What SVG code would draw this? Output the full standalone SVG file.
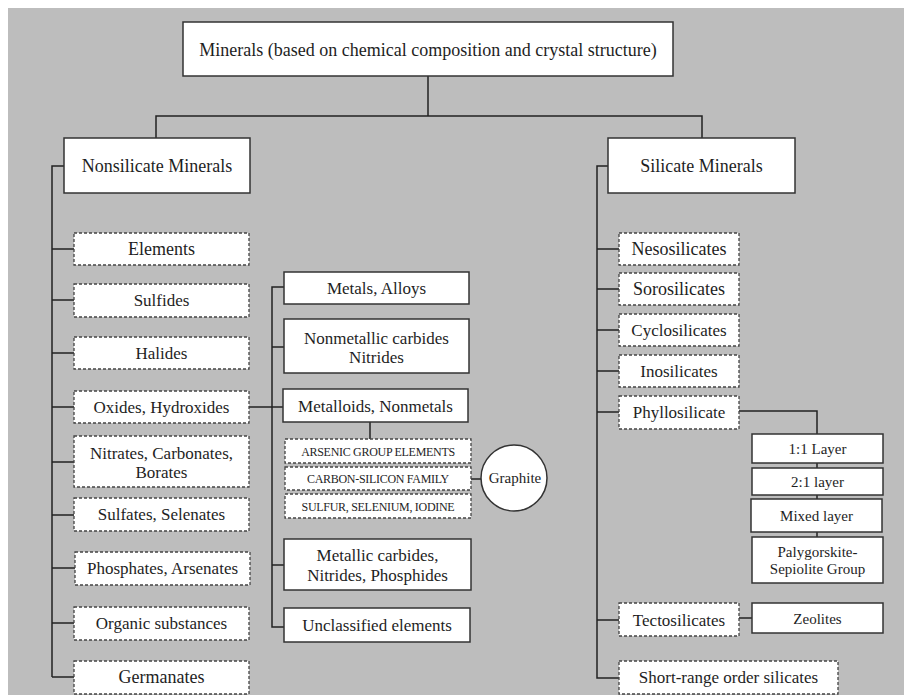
<svg xmlns="http://www.w3.org/2000/svg" width="904" height="695" viewBox="0 0 904 695">
<style>
.bg{fill:#bdbdbd}
.box{fill:#fff;stroke:#333;stroke-width:1.5}
.dbox{fill:#fff;stroke:#444;stroke-width:1.3;stroke-dasharray:3 2}
.t{font-family:"Liberation Serif","Times New Roman",serif;fill:#1e1e1e;text-anchor:middle}
.s17{font-size:17px}
.s18{font-size:18px}
.s15{font-size:15px}
.s12{font-size:12px;letter-spacing:-0.3px}
.c{fill:none;stroke:#222;stroke-width:1.5}
</style>
<rect x="0" y="0" width="904" height="695" fill="#fff"/>
<rect class="bg" x="8" y="8" width="896" height="687"/>

<g id="connectors">
<path class="c" d="M428,76V116M156,138V116H702V138"/>
<path class="c" d="M64,166H52V677M52,249H74M52,300H74M52,353H74M52,407H74M52,462H74M52,515H74M52,568H75M52,623H74M52,677H74"/>
<path class="c" d="M249,407H284M284,287H272V627H284M272,347H284M272,565H284M370,422V439M471,479H481"/>
<path class="c" d="M608,166H597V678H619M597,249H619M597,289H619M597,330H619M597,371H619M597,412H619M597,620H619"/>
<path class="c" d="M739,411H817V434M817,463V468M817,495V499M817,532V537M739,618H752"/>
</g>

<g id="root"><rect class="box" x="183" y="22" width="490" height="54"/><text class="t s18" x="428" y="56">Minerals (based on chemical composition and crystal structure)</text></g>
<g id="nonsilicate"><rect class="box" x="64" y="138" width="186" height="55"/><text class="t s18" x="157" y="172">Nonsilicate Minerals</text></g>
<g id="silicate"><rect class="box" x="608" y="138" width="187" height="55"/><text class="t s18" x="701.5" y="172">Silicate Minerals</text></g>

<g id="elements"><rect class="dbox" x="74" y="233" width="175" height="32"/><text class="t s18" x="161.5" y="255">Elements</text></g>
<g id="sulfides"><rect class="dbox" x="74" y="284" width="175" height="33"/><text class="t s17" x="161.5" y="306">Sulfides</text></g>
<g id="halides"><rect class="dbox" x="74" y="337" width="175" height="32"/><text class="t s17" x="161.5" y="359">Halides</text></g>
<g id="oxides"><rect class="dbox" x="74" y="391" width="175" height="32"/><text class="t s17" x="161.5" y="413">Oxides, Hydroxides</text></g>
<g id="nitrates"><rect class="dbox" x="74" y="436" width="175" height="51"/><text class="t s17" x="161.5" y="459">Nitrates, Carbonates,</text><text class="t s17" x="161.5" y="478">Borates</text></g>
<g id="sulfates"><rect class="dbox" x="74" y="498" width="175" height="33"/><text class="t s17" x="161.5" y="520">Sulfates, Selenates</text></g>
<g id="phosphates"><rect class="dbox" x="75" y="552" width="175" height="33"/><text class="t s17" x="162.5" y="574">Phosphates, Arsenates</text></g>
<g id="organic"><rect class="dbox" x="74" y="607" width="175" height="33"/><text class="t s17" x="161.5" y="629">Organic substances</text></g>
<g id="germanates"><rect class="dbox" x="74" y="661" width="175" height="33"/><text class="t s18" x="161.5" y="683">Germanates</text></g>

<g id="metals"><rect class="box" x="284" y="272" width="185" height="32"/><text class="t s17" x="376.5" y="294">Metals, Alloys</text></g>
<g id="nonmetallic"><rect class="box" x="284" y="319" width="185" height="54"/><text class="t s17" x="376.5" y="344">Nonmetallic carbides</text><text class="t s17" x="376.5" y="363">Nitrides</text></g>
<g id="metalloids"><rect class="box" x="283" y="389" width="185" height="33"/><text class="t s17" x="375.5" y="412">Metalloids, Nonmetals</text></g>
<g id="arsenic"><rect class="dbox" x="285" y="439" width="186" height="24"/><text class="t s12" x="378" y="456">ARSENIC GROUP ELEMENTS</text></g>
<g id="carbon"><rect class="dbox" x="285" y="467" width="186" height="23"/><text class="t s12" x="378" y="483">CARBON-SILICON FAMILY</text></g>
<g id="sulfur"><rect class="dbox" x="285" y="494" width="186" height="24"/><text class="t s12" x="378" y="511">SULFUR, SELENIUM, IODINE</text></g>
<g id="graphite"><circle cx="514" cy="478" r="33" fill="#fff" stroke="#333" stroke-width="1.5"/><text class="t s15" x="515" y="483">Graphite</text></g>
<g id="metallic"><rect class="box" x="284" y="539" width="187" height="51"/><text class="t s17" x="377.5" y="561">Metallic carbides,</text><text class="t s17" x="377.5" y="581">Nitrides, Phosphides</text></g>
<g id="unclassified"><rect class="box" x="284" y="608" width="186" height="34"/><text class="t s17" x="377" y="631">Unclassified elements</text></g>

<g id="neso"><rect class="dbox" x="619" y="233" width="120" height="32"/><text class="t s18" x="679" y="255">Nesosilicates</text></g>
<g id="soro"><rect class="dbox" x="619" y="273" width="120" height="32"/><text class="t s18" x="679" y="295">Sorosilicates</text></g>
<g id="cyclo"><rect class="dbox" x="619" y="314" width="120" height="32"/><text class="t s17" x="679" y="336">Cyclosilicates</text></g>
<g id="ino"><rect class="dbox" x="619" y="355" width="120" height="32"/><text class="t s17" x="679" y="377">Inosilicates</text></g>
<g id="phyllo"><rect class="dbox" x="619" y="396" width="120" height="33"/><text class="t s17" x="679" y="418">Phyllosilicate</text></g>
<g id="layer11"><rect class="box" x="752" y="434" width="131" height="29"/><text class="t s15" x="817.5" y="454">1:1 Layer</text></g>
<g id="layer21"><rect class="box" x="752" y="468" width="131" height="27"/><text class="t s15" x="817.5" y="487">2:1 layer</text></g>
<g id="mixed"><rect class="box" x="751" y="499" width="131" height="33"/><text class="t s15" x="816.5" y="521">Mixed layer</text></g>
<g id="palygorskite"><rect class="box" x="752" y="537" width="131" height="46"/><text class="t s15" x="817.5" y="557">Palygorskite-</text><text class="t s15" x="817.5" y="574">Sepiolite Group</text></g>
<g id="tecto"><rect class="dbox" x="619" y="603" width="120" height="33"/><text class="t s17" x="679" y="626">Tectosilicates</text></g>
<g id="zeolites"><rect class="box" x="752" y="603" width="131" height="30"/><text class="t s15" x="817.5" y="624">Zeolites</text></g>
<g id="shortrange"><rect class="dbox" x="619" y="661" width="219" height="33"/><text class="t s17" x="728.5" y="683">Short-range order silicates</text></g>
</svg>
